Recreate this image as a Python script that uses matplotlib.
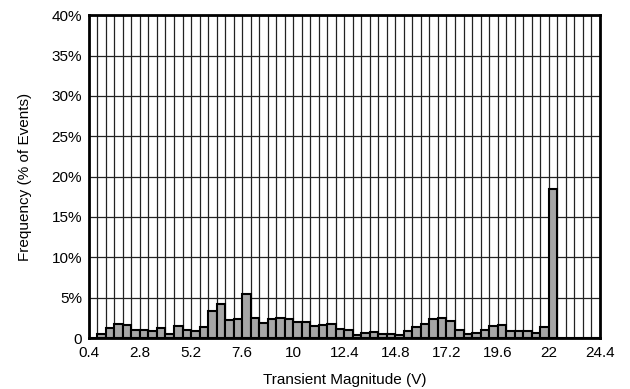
import numpy as np
import matplotlib
matplotlib.use('Agg')
import matplotlib.pyplot as plt
from matplotlib.ticker import FuncFormatter

plt.rcParams['font.family'] = ['Liberation Sans', 'DejaVu Sans']

# frequency (% of events) per 0.4 V bin, starting at 0.4 V
freq_pct = [
    0.0, 0.45, 1.3, 1.75, 1.6, 1.05, 1.05, 0.9, 1.2, 0.55,
    1.55, 1.0, 0.85, 1.4, 3.3, 4.2, 2.2, 2.4, 5.5, 2.5,
    1.9, 2.4, 2.45, 2.4, 2.0, 2.0, 1.55, 1.6, 1.7, 1.1,
    0.95, 0.4, 0.6, 0.8, 0.45, 0.45, 0.35, 0.9, 1.35, 1.8,
    2.4, 2.45, 2.1, 1.0, 0.45, 0.6, 0.95, 1.55, 1.65, 0.9,
    0.9, 0.9, 0.6, 1.35, 18.5, 0.0, 0.0, 0.0, 0.0, 0.0,
]
bin_start = 0.4
bin_width = 0.4
x_ticks = [0.4, 2.8, 5.2, 7.6, 10, 12.4, 14.8, 17.2, 19.6, 22, 24.4]
x_tick_labels = ['0.4', '2.8', '5.2', '7.6', '10', '12.4', '14.8', '17.2', '19.6', '22', '24.4']
y_ticks = [0, 5, 10, 15, 20, 25, 30, 35, 40]

n = len(freq_pct)
lefts = bin_start + bin_width * np.arange(n)
x_min = bin_start
x_max = bin_start + bin_width * n

fig = plt.figure(figsize=(6.3, 3.89), dpi=100)
ax = fig.add_axes([0.141, 0.131, 0.811, 0.830])

# grid: every bin vertically, every 5% horizontally
for xv in np.arange(x_min, x_max + 1e-9, bin_width):
    ax.axvline(xv, color='#222222', lw=0.9, zorder=1)
for yv in y_ticks:
    ax.axhline(yv, color='#222222', lw=0.9, zorder=1)

ax.bar(lefts, freq_pct, width=bin_width, align='edge',
       color='#a6a6a6', edgecolor='black', linewidth=1.5, zorder=2)

ax.set_xlim(x_min, x_max)
ax.set_ylim(0, 40)
ax.set_xticks(x_ticks)
ax.set_xticklabels(x_tick_labels)
ax.set_yticks(y_ticks)
ax.yaxis.set_major_formatter(FuncFormatter(lambda v, p: '0' if v == 0 else f'{v:.0f}%'))
ax.tick_params(length=0, labelsize=11)
ax.tick_params(axis='x', pad=6)
ax.tick_params(axis='y', pad=5)

for s in ax.spines.values():
    s.set_linewidth(2)
    s.set_color('black')
    s.set_zorder(3)

ax.set_xlabel('Transient Magnitude (V)', fontsize=11, labelpad=9)
ax.set_ylabel('Frequency (% of Events)', fontsize=11, labelpad=14)

plt.savefig('out.png', dpi=100)
plt.close()
